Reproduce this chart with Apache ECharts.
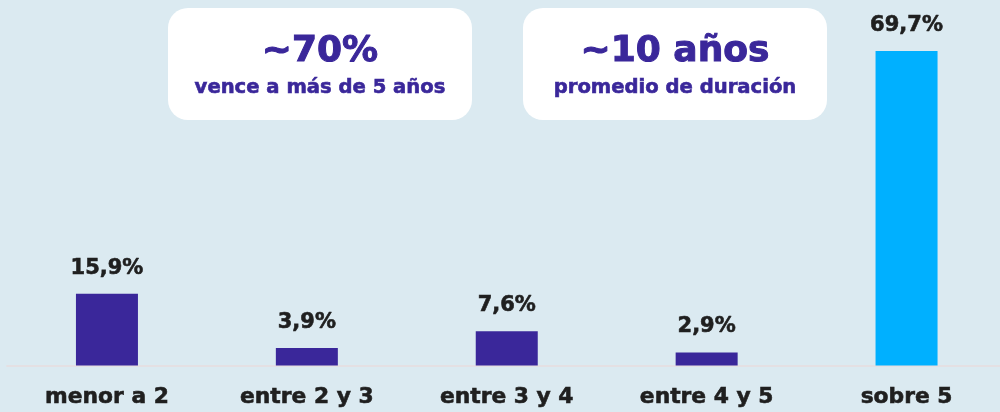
<!DOCTYPE html>
<html><head><meta charset="utf-8">
<script src="https://cdn.jsdelivr.net/npm/echarts@6/dist/echarts.min.js"></script>
<style>html,body{margin:0;padding:0;background:#dbeaf1;}#c{width:1000px;height:412px;}</style>
</head><body><div id="c"></div>
<script>
const categories = ['menor a 2', 'entre 2 y 3', 'entre 3 y 4', 'entre 4 y 5', 'sobre 5'];
const values = [15.9, 3.9, 7.6, 2.9, 69.7];
const barColors = ['#3a279a', '#3a279a', '#3a279a', '#3a279a', '#00b0ff'];
const box1Texts = ['~70%', 'vence a más de 5 años'];
const box2Texts = ['~10 años', 'promedio de duración'];

const FONT = 'DejaVu Sans';
const purple = '#3a279a';
const dark = '#1f1f1f';
const chart = echarts.init(document.getElementById('c'), null, {renderer: 'canvas'});

function box(x, y, w, h, texts) {
  return {
    type: 'group', left: x, top: y,
    children: [
      {type: 'rect', shape: {x: 0, y: 0, width: w, height: h, r: 20}, style: {fill: '#ffffff'}},
      {type: 'text', x: w / 2, y: 43.5, style: {text: texts[0], fill: purple, stroke: purple, lineWidth: 1, font: 'bold 36px "' + FONT + '"', textAlign: 'center', textVerticalAlign: 'middle'}},
      {type: 'text', x: w / 2, y: 80, style: {text: texts[1], fill: purple, stroke: purple, lineWidth: 0.6, font: 'bold 19.6px "' + FONT + '"', textAlign: 'center', textVerticalAlign: 'middle'}}
    ]
  };
}

chart.setOption({
  backgroundColor: '#dbeaf1',
  animation: false,
  grid: {left: 7, width: 999.5, top: 4.5, bottom: 46.5, containLabel: false, outerBoundsMode: 'none'},
  xAxis: {
    type: 'category', data: categories,
    axisLine: {show: true, lineStyle: {color: '#e4e0e3', width: 2}},
    axisTick: {show: false},
    axisLabel: {margin: 21, color: dark, fontFamily: FONT, fontWeight: 'bold', fontSize: 21.8, textBorderColor: dark, textBorderWidth: 0.6}
  },
  yAxis: {type: 'value', min: 0, max: 80, show: false, splitLine: {show: false}},
  series: [{
    type: 'bar', barWidth: 62,
    data: values.map((v, i) => ({value: v, itemStyle: {color: barColors[i]}})),
    label: {
      show: true, position: 'top', distance: 15,
      formatter: p => String(p.value).replace('.', ',') + '%',
      color: dark, fontFamily: FONT, fontWeight: 'bold', fontSize: 21, textBorderColor: dark, textBorderWidth: 0.6
    }
  }],
  graphic: [box(168, 8, 304, 112, box1Texts), box(523, 8, 304, 112, box2Texts)]
});
</script></body></html>
